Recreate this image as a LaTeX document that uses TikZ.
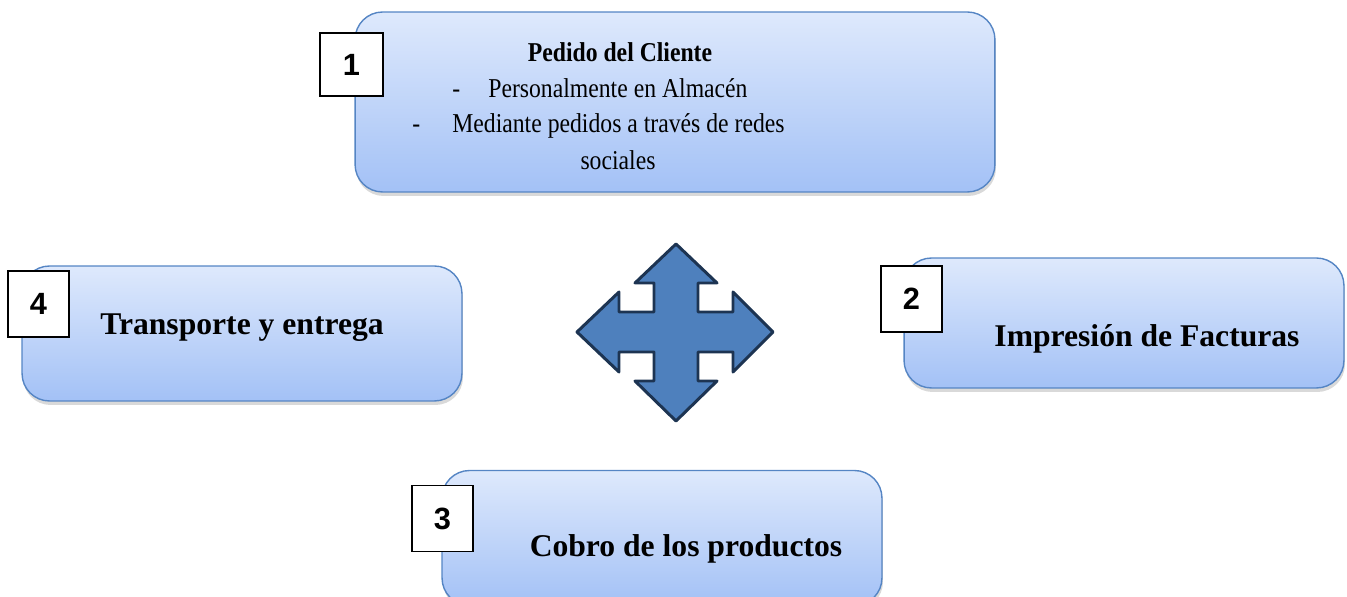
\documentclass[tikz,border=0pt]{standalone}
\usepackage{fontspec}
\setmainfont{Liberation Serif}
\setsansfont{Liberation Sans}
\newfontfamily\narrowserif[FakeStretch=0.87]{Liberation Serif}
\usetikzlibrary{shapes,arrows,shadows}
\definecolor{boxtop}{HTML}{DEE9FC}
\definecolor{boxbot}{HTML}{A3C1F6}
\definecolor{boxline}{HTML}{5585C4}
\definecolor{crossfill}{HTML}{4E80BD}
\definecolor{crossline}{HTML}{1D3452}
\tikzstyle{stage} = [rectangle, rounded corners=0.55cm, draw=boxline, line width=0.8pt, top color=boxtop, bottom color=boxbot, drop shadow={shadow xshift=0.02cm, shadow yshift=-0.08cm, opacity=0.3}]
\tikzstyle{num} = [rectangle, draw=black, fill=white, line width=0.6pt, inner sep=0pt, font=\sffamily\bfseries\fontsize{17.5}{17.5}\selectfont]
\tikzstyle{title} = [anchor=base, inner sep=0pt, font=\bfseries\fontsize{18}{18}\selectfont]
\tikzstyle{item} = [anchor=base west, inner sep=0pt, font=\narrowserif\fontsize{15.5}{20.5}\selectfont]

\begin{document}
\begin{tikzpicture}[x=0.02cm, y=-0.02cm]
        \useasboundingbox (0,0) rectangle (1347,597);

        % the four stages
        \node (P1) [stage, minimum width=12.8cm, minimum height=3.6cm] at (675,102) {};
        \node (P2) [stage, minimum width=8.8cm, minimum height=2.6cm] at (1124,323) {};
        \node (P3) [stage, minimum width=8.8cm, minimum height=2.7cm] at (662,538) {};
        \node (P4) [stage, minimum width=8.8cm, minimum height=2.7cm] at (242,333.5) {};

        % texts
        \node (T1) [title, font=\narrowserif\bfseries\fontsize{15.5}{15.5}\selectfont] at (620,62) {Pedido del Cliente};
        \node (D1) [item] at (452,98) {-};
        \node (L1) [item] at (488,98) {Personalmente en Almacén};
        \node (D2) [item] at (412,133) {-};
        \node (L2) [item] at (452,133) {Mediante pedidos a través de redes};
        \node (L3) [item, anchor=base] at (618,170) {sociales};
        \node (T2) [title] at (1147,347) {Impresión de Facturas};
        \node (T3) [title] at (686,557) {Cobro de los productos};
        \node (T4) [title] at (242,335) {Transporte y entrega};

        % numbers
        \node (N1) [num, minimum width=1.26cm, minimum height=1.26cm] at (351.5,64.5) {1};
        \node (N2) [num, minimum width=1.22cm, minimum height=1.32cm] at (911.5,299) {2};
        \node (N3) [num, minimum width=1.22cm, minimum height=1.32cm] at (442.5,518.5) {3};
        \node (N4) [num, minimum width=1.22cm, minimum height=1.32cm] at (38.5,304) {4};

        % four-way arrow
        \draw[fill=crossfill, draw=crossline, line width=1.7pt, line join=round]
            (676,244) -- (717,283) -- (698,283) -- (698,312) -- (733,312) -- (733,292)
            -- (773,332) -- (733,372) -- (733,352) -- (698,352) -- (698,381) -- (717,381)
            -- (676,421) -- (635,381) -- (654,381) -- (654,352) -- (619,352) -- (619,372)
            -- (577,332) -- (619,292) -- (619,312) -- (654,312) -- (654,283) -- (635,283) -- cycle;

    \end{tikzpicture}
\end{document}
